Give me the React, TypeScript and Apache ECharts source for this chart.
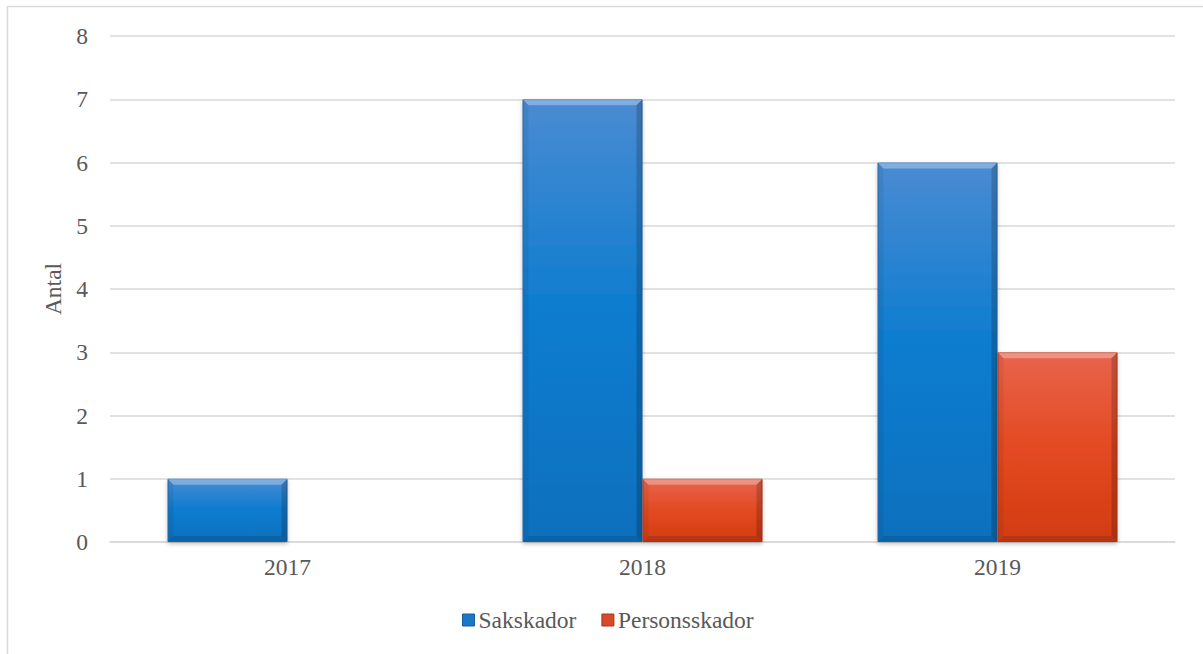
import React, { useEffect, useRef } from "react";
import * as echarts from "echarts";

const years = ["2017", "2018", "2019"];
const sakskador = [1, 7, 6];
const personsskador = [0, 1, 3];
const seriesNames = ["Sakskador", "Personsskador"];
const yTicks = { min: 0, max: 8, interval: 1 };

const FONT = "'Liberation Serif', 'Times New Roman', serif";
const CAT_GAP = 0.324;

export default function App() {
  const ref = useRef<HTMLDivElement>(null);
  useEffect(() => {
    if (!ref.current) return;
    const chart = echarts.init(ref.current, null, { renderer: "svg" });
    const blue = new echarts.graphic.LinearGradient(0, 0, 0, 1, [
      { offset: 0, color: "#4a8bd2" },
      { offset: 0.5, color: "#0a7ccf" },
      { offset: 1, color: "#0d70bd" },
    ]);
    const red = new echarts.graphic.LinearGradient(0, 0, 0, 1, [
      { offset: 0, color: "#e8644c" },
      { offset: 0.5, color: "#e34a22" },
      { offset: 1, color: "#d23c12" },
    ]);
    const bevelData: number[][] = [];
    sakskador.forEach((v, i) => bevelData.push([i, v, 0]));
    personsskador.forEach((v, i) => bevelData.push([i, v, 1]));

    chart.setOption({
      animation: false,
      backgroundColor: "#ffffff",
      textStyle: { fontFamily: FONT },
      graphic: [
        { type: "line", shape: { x1: 7, y1: 6.5, x2: 1203, y2: 6.5 }, style: { stroke: "#d9d9d9", lineWidth: 1.5 } },
        { type: "line", shape: { x1: 7.5, y1: 6, x2: 7.5, y2: 654 }, style: { stroke: "#d9d9d9", lineWidth: 1.5 } },
      ],
      grid: { left: 110, right: 28, top: 36, bottom: 112, containLabel: false },
      legend: {
        data: [
          { name: seriesNames[0], itemStyle: { color: "#1a78c8", borderColor: "#1a5c98", borderWidth: 1 } },
          { name: seriesNames[1], itemStyle: { color: "#d84a28", borderColor: "#a03a1c", borderWidth: 1 } },
        ],
        left: 462,
        top: 608,
        padding: 0,
        itemWidth: 12,
        itemHeight: 12,
        itemGap: 25,
        icon: "rect",
        textStyle: { fontFamily: FONT, fontSize: 23.5, color: "#595959", padding: [0, 0, 0, -1] },
      },
      xAxis: {
        type: "category",
        data: years,
        axisLine: { lineStyle: { color: "#d9d9d9", width: 1.5 } },
        axisTick: { show: false },
        axisLabel: { fontFamily: FONT, fontSize: 23.5, color: "#595959", margin: 13 },
      },
      yAxis: {
        type: "value",
        min: yTicks.min,
        max: yTicks.max,
        interval: yTicks.interval,
        name: "Antal",
        nameLocation: "middle",
        nameGap: 45,
        nameRotate: 90,
        nameTextStyle: { fontFamily: FONT, fontSize: 23.5, color: "#595959" },
        axisLine: { show: false },
        axisTick: { show: false },
        axisLabel: { fontFamily: FONT, fontSize: 23.5, color: "#595959", margin: 22 },
        splitLine: { lineStyle: { color: "#d9d9d9", width: 1.5 } },
      },
      series: [
        {
          name: seriesNames[0],
          type: "bar",
          data: sakskador,
          barGap: "0%",
          barCategoryGap: CAT_GAP * 100 + "%",
          itemStyle: {
            color: blue,
            borderColor: "#2a6cae",
            borderWidth: 1,
            shadowBlur: 4,
            shadowColor: "rgba(0,0,0,0.25)",
            shadowOffsetY: 2,
          },
        },
        {
          name: seriesNames[1],
          type: "bar",
          data: personsskador,
          itemStyle: {
            color: red,
            borderColor: "#b84020",
            borderWidth: 1,
            shadowBlur: 4,
            shadowColor: "rgba(0,0,0,0.25)",
            shadowOffsetY: 2,
          },
        },
        {
          type: "custom",
          silent: true,
          z: 5,
          data: bevelData,
          renderItem: (params: any, api: any) => {
            const cat = api.value(0);
            const val = api.value(1);
            const s = api.value(2);
            if (!val) return null;
            const base = api.coord([cat, 0]);
            const top = api.coord([cat, val]);
            const catW = api.size([1, 0])[0];
            const bw = (catW * (1 - CAT_GAP)) / 2;
            const x0 = base[0] - bw + s * bw;
            const x1 = x0 + bw;
            const y0 = top[1];
            const y1 = base[1];
            const b = 6;
            return {
              type: "group",
              children: [
                {
                  type: "polygon",
                  shape: { points: [[x0, y0], [x1, y0], [x1 - b, y0 + b], [x0 + b, y0 + b]] },
                  style: { fill: "rgba(255,255,255,0.3)" },
                },
                {
                  type: "polygon",
                  shape: { points: [[x1, y0], [x1, y1], [x1 - b, y1 - b], [x1 - b, y0 + b]] },
                  style: { fill: "rgba(0,0,0,0.18)" },
                },
                {
                  type: "polygon",
                  shape: { points: [[x0, y0], [x0 + b, y0 + b], [x0 + b, y1 - b], [x0, y1]] },
                  style: { fill: "rgba(0,0,0,0.06)" },
                },
                {
                  type: "polygon",
                  shape: { points: [[x0, y1], [x0 + b, y1 - b], [x1 - b, y1 - b], [x1, y1]] },
                  style: { fill: "rgba(0,0,0,0.12)" },
                },
              ],
            };
          },
        },
      ],
    });
    return () => chart.dispose();
  }, []);
  return (
    <div
      ref={ref}
      style={{ position: "fixed", left: 0, top: 0, width: 1203, height: 654 }}
    />
  );
}
